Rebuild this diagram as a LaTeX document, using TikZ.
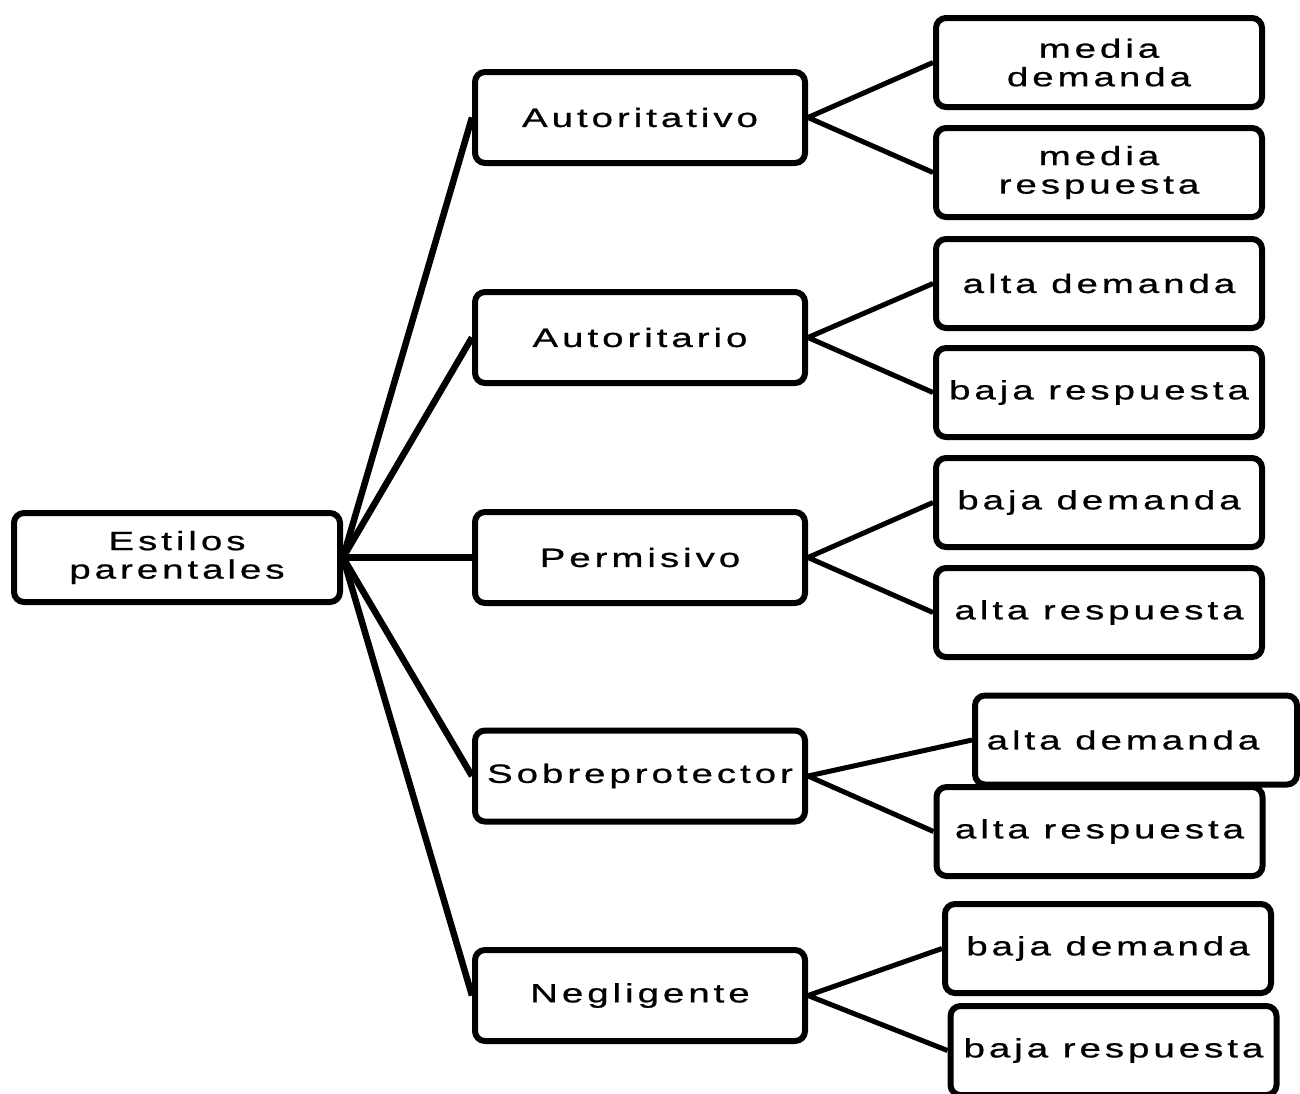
\documentclass[tikz,border=0pt]{standalone}
\usepackage{fontspec}
\setmainfont[FakeStretch=1.45,LetterSpace=15,FakeBold=0.8]{Liberation Sans}
\usetikzlibrary{positioning}
\tikzset{
	box/.style     ={rectangle, rounded corners=10pt, draw=black, line width=6pt, fill=white, minimum width=326pt, minimum height=89pt, text centered, align=center, inner sep=2pt, font=\fontsize{26.5}{28.5}\selectfont},
	midbox/.style  ={box, minimum width=330pt, minimum height=91pt},
	link/.style    ={line width=5pt},
	rootlink/.style={line width=6.5pt},
}

\begin{document}
\begin{tikzpicture}[x=1pt, y=-1pt]
	\clip (0,0) rectangle (1300,1093);
	% root and styles
	\node[box] (root) at (177,557.5) {Estilos\\parentales};
	\node[midbox] (aut)  at (640,117.5) {Autoritativo};
	\node[midbox] (auth) at (640,337.5) {Autoritario};
	\node[midbox] (perm) at (640,557.5) {Permisivo};
	\node[midbox] (sobr) at (640,776)   {Sobreprotector};
	\node[midbox] (negl) at (640,995.5) {Negligente};
	% demanda / respuesta
	\node[box] (autD)  at (1099,62.5)  {media\\demanda};
	\node[box] (autR)  at (1099,172.5) {media\\respuesta};
	\node[box] (authD) at (1099,283.5) {alta demanda};
	\node[box] (authR) at (1099,392.5) {baja respuesta};
	\node[box] (permD) at (1099,502.5) {baja demanda};
	\node[box] (permR) at (1099,612.5) {alta respuesta};
	\node[box, minimum width=322pt] (sobrD) at (1136,740) {alta demanda\hspace*{26pt}};
	\node[box] (sobrR) at (1099.5,831.5) {alta respuesta};
	\node[box] (neglD) at (1108,948.5)   {baja demanda};
	\node[box] (neglR) at (1113.5,1050.5) {baja respuesta};
	% links
	\foreach \m in {aut,auth,perm,sobr,negl}{
		\draw[rootlink] (root.east) -- (\m.west);
		\draw[link] (\m.east) -- (\m D.west) (\m.east) -- (\m R.west);
	}
\end{tikzpicture}
\end{document}
